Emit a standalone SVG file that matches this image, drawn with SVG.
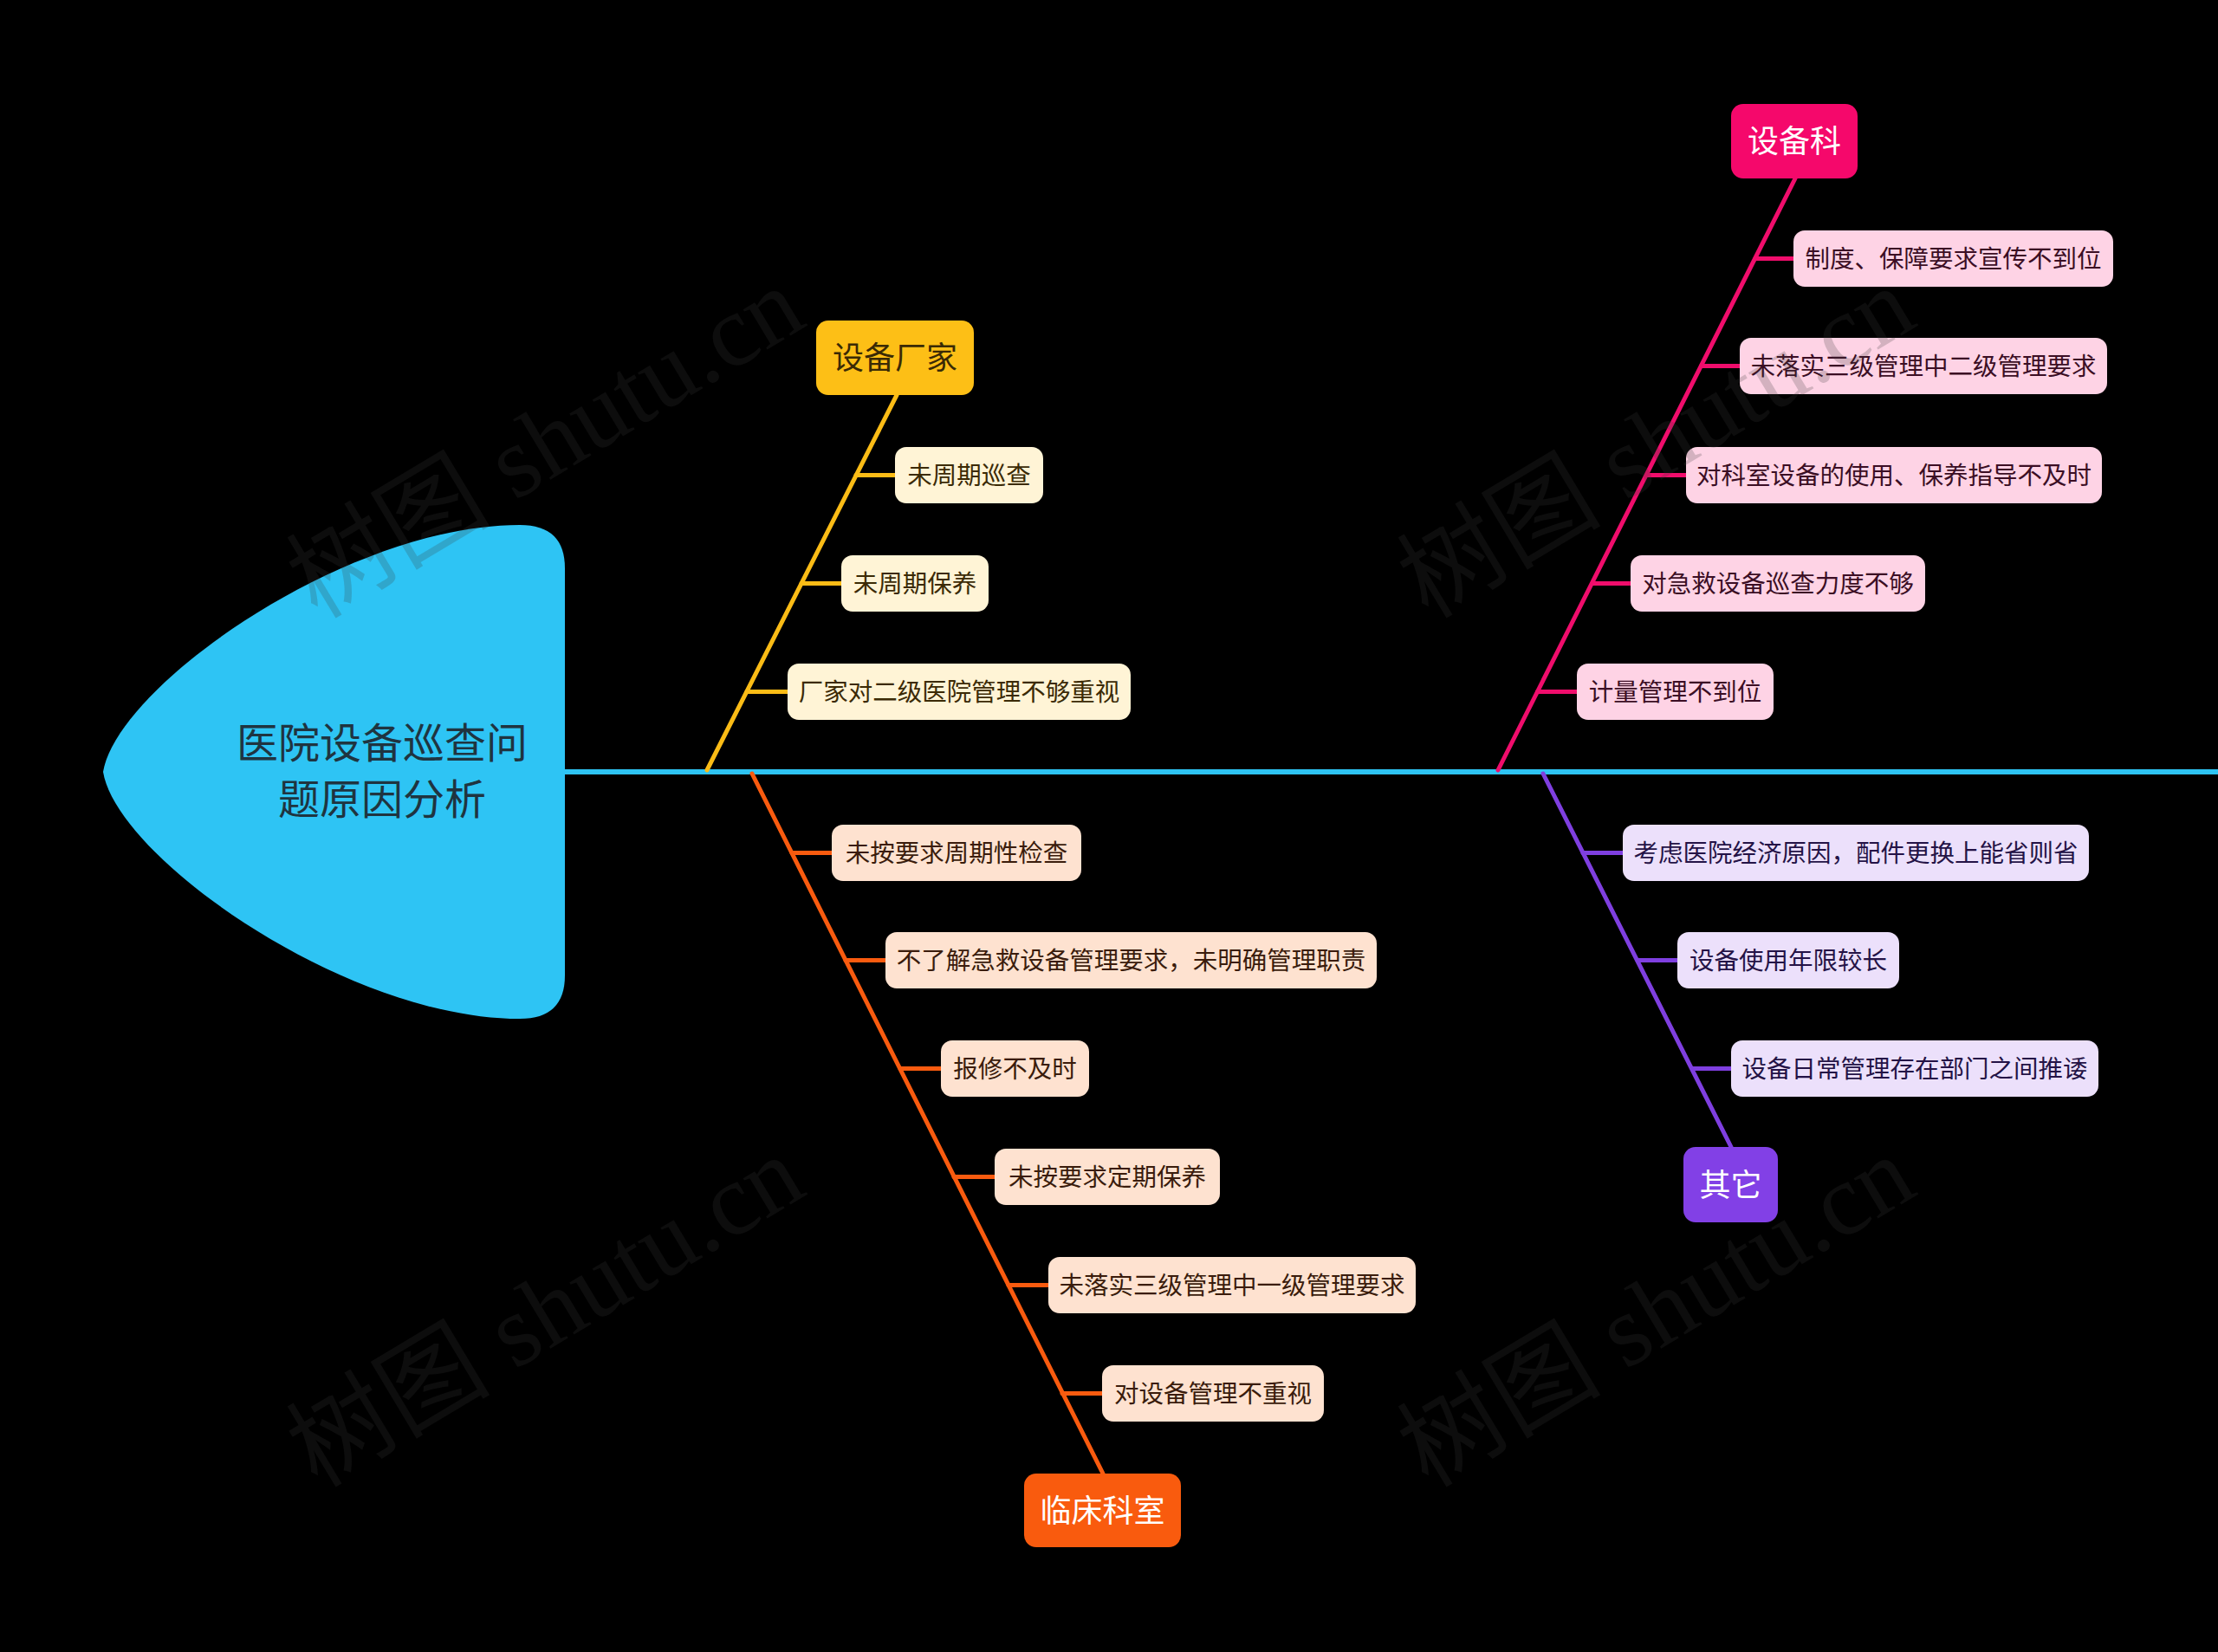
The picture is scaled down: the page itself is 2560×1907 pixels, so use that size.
<svg xmlns="http://www.w3.org/2000/svg" width="2560" height="1907" viewBox="0 0 2560 1907">
<style>
text{font-family:"Noto Sans CJK SC","Noto Sans",sans-serif;text-anchor:middle}
.t{font-size:28.5px}
.m{font-size:36px}
.cy{fill:#fff4d6}.ty{fill:#3b2a05}
.co{fill:#fee2d0}.to{fill:#3a1c0c}
.cp{fill:#fed3e5}.tp{fill:#3b0e24}
.cv{fill:#ece0fb}.tv{fill:#241346}
.ly{stroke:#fbbc16}.lo{stroke:#f95b0f}.lp{stroke:#f00d6c}.lv{stroke:#7f3fe0}
#connectors line{stroke-width:5;stroke-linecap:round}
.wm{font-family:"Liberation Serif","Noto Sans CJK SC",serif;font-size:118px;fill:#3a3a3a;fill-opacity:0.22;text-anchor:middle}
</style>
<rect width="2560" height="1907" fill="#000"/>
<g id="connectors">
<line x1="652" y1="891" x2="2560" y2="891" style="stroke:#2ec4f3;stroke-width:6;stroke-linecap:butt"/>
<line class="ly" x1="816" y1="889" x2="1035" y2="456"/>
<line class="ly" x1="988" y1="548.5" x2="1033" y2="548.5"/>
<line class="ly" x1="925" y1="673.5" x2="971" y2="673.5"/>
<line class="ly" x1="862" y1="798.5" x2="909" y2="798.5"/>
<line class="lp" x1="1729" y1="889" x2="2072" y2="206"/>
<line class="lp" x1="2026" y1="298.5" x2="2070" y2="298.5"/>
<line class="lp" x1="1963.5" y1="422.5" x2="2008" y2="422.5"/>
<line class="lp" x1="1900.5" y1="548.5" x2="1946" y2="548.5"/>
<line class="lp" x1="1838" y1="673.5" x2="1882" y2="673.5"/>
<line class="lp" x1="1774.5" y1="798.5" x2="1820" y2="798.5"/>
<line class="lo" x1="868" y1="893" x2="1273" y2="1701"/>
<line class="lo" x1="914" y1="984.5" x2="960" y2="984.5"/>
<line class="lo" x1="976" y1="1108.5" x2="1022" y2="1108.5"/>
<line class="lo" x1="1039" y1="1233.5" x2="1086" y2="1233.5"/>
<line class="lo" x1="1101" y1="1358.5" x2="1148" y2="1358.5"/>
<line class="lo" x1="1164" y1="1483.5" x2="1210" y2="1483.5"/>
<line class="lo" x1="1226" y1="1608.5" x2="1272" y2="1608.5"/>
<line class="lv" x1="1781" y1="893" x2="1998" y2="1324"/>
<line class="lv" x1="1827" y1="984.5" x2="1873" y2="984.5"/>
<line class="lv" x1="1890" y1="1108.5" x2="1936" y2="1108.5"/>
<line class="lv" x1="1953.5" y1="1233.5" x2="1998" y2="1233.5"/>
</g>
<g id="head">
<path d="M600,606 Q652,606 652,656 L652,1126 Q652,1176 600,1176 C400,1176 135,990 119,891 C135,792 400,606 600,606 Z" fill="#2ec4f4"/>
<text x="441" y="875" style="font-size:48px;fill:#1f3440">医院设备巡查问</text>
<text x="441" y="940" style="font-size:48px;fill:#1f3440">题原因分析</text>
</g>
<g id="n-changjia">
<rect x="942" y="370" width="182" height="86" rx="14" fill="#fdbf16"/>
<text class="m" x="1033" y="426" fill="#3a2a05">设备厂家</text>
</g>
<g id="n-cj1"><rect class="cy" x="1033" y="516" width="171" height="65" rx="13"/><text class="t ty" x="1118.5" y="558.5">未周期巡查</text></g>
<g id="n-cj2"><rect class="cy" x="971" y="641" width="170" height="65" rx="13"/><text class="t ty" x="1056" y="683.5">未周期保养</text></g>
<g id="n-cj3"><rect class="cy" x="909" y="766" width="396" height="65" rx="13"/><text class="t ty" x="1107" y="808.5">厂家对二级医院管理不够重视</text></g>
<g id="n-sbk">
<rect x="1998" y="120" width="146" height="86" rx="14" fill="#f5086b"/>
<text class="m" x="2071" y="176" fill="#fff">设备科</text>
</g>
<g id="n-sb1"><rect class="cp" x="2070" y="266" width="369" height="65" rx="13"/><text class="t tp" x="2254.5" y="308.5">制度、保障要求宣传不到位</text></g>
<g id="n-sb2"><rect class="cp" x="2008" y="390" width="424" height="65" rx="13"/><text class="t tp" x="2220" y="432.5">未落实三级管理中二级管理要求</text></g>
<g id="n-sb3"><rect class="cp" x="1946" y="516" width="480" height="65" rx="13"/><text class="t tp" x="2186" y="558.5">对科室设备的使用、保养指导不及时</text></g>
<g id="n-sb4"><rect class="cp" x="1882" y="641" width="340" height="65" rx="13"/><text class="t tp" x="2052" y="683.5">对急救设备巡查力度不够</text></g>
<g id="n-sb5"><rect class="cp" x="1820" y="766" width="227" height="65" rx="13"/><text class="t tp" x="1933.5" y="808.5">计量管理不到位</text></g>
<g id="n-lc">
<rect x="1182" y="1701" width="181" height="85" rx="14" fill="#f95b0e"/>
<text class="m" x="1272.5" y="1756.5" fill="#fff">临床科室</text>
</g>
<g id="n-lc1"><rect class="co" x="960" y="952" width="288" height="65" rx="13"/><text class="t to" x="1104" y="994.5">未按要求周期性检查</text></g>
<g id="n-lc2"><rect class="co" x="1022" y="1076" width="567" height="65" rx="13"/><text class="t to" x="1305.5" y="1118.5">不了解急救设备管理要求，未明确管理职责</text></g>
<g id="n-lc3"><rect class="co" x="1086" y="1201" width="171" height="65" rx="13"/><text class="t to" x="1171.5" y="1243.5">报修不及时</text></g>
<g id="n-lc4"><rect class="co" x="1148" y="1326" width="260" height="65" rx="13"/><text class="t to" x="1278" y="1368.5">未按要求定期保养</text></g>
<g id="n-lc5"><rect class="co" x="1210" y="1451" width="424" height="65" rx="13"/><text class="t to" x="1422" y="1493.5">未落实三级管理中一级管理要求</text></g>
<g id="n-lc6"><rect class="co" x="1272" y="1576" width="256" height="65" rx="13"/><text class="t to" x="1400" y="1618.5">对设备管理不重视</text></g>
<g id="n-qt">
<rect x="1943" y="1324" width="109" height="87" rx="14" fill="#8240e6"/>
<text class="m" x="1997.5" y="1380.5" fill="#fff">其它</text>
</g>
<g id="n-qt1"><rect class="cv" x="1873" y="952" width="538" height="65" rx="13"/><text class="t tv" x="2142" y="994.5">考虑医院经济原因，配件更换上能省则省</text></g>
<g id="n-qt2"><rect class="cv" x="1936" y="1076" width="256" height="65" rx="13"/><text class="t tv" x="2064" y="1118.5">设备使用年限较长</text></g>
<g id="n-qt3"><rect class="cv" x="1998" y="1201" width="424" height="65" rx="13"/><text class="t tv" x="2210" y="1243.5">设备日常管理存在部门之间推诿</text></g>
<g id="watermark">
<text class="wm" transform="translate(650,545) rotate(-31)">树图 shutu.cn</text>
<text class="wm" transform="translate(1932,545) rotate(-31)">树图 shutu.cn</text>
<text class="wm" transform="translate(650,1548) rotate(-31)">树图 shutu.cn</text>
<text class="wm" transform="translate(1932,1548) rotate(-31)">树图 shutu.cn</text>
</g>
</svg>
